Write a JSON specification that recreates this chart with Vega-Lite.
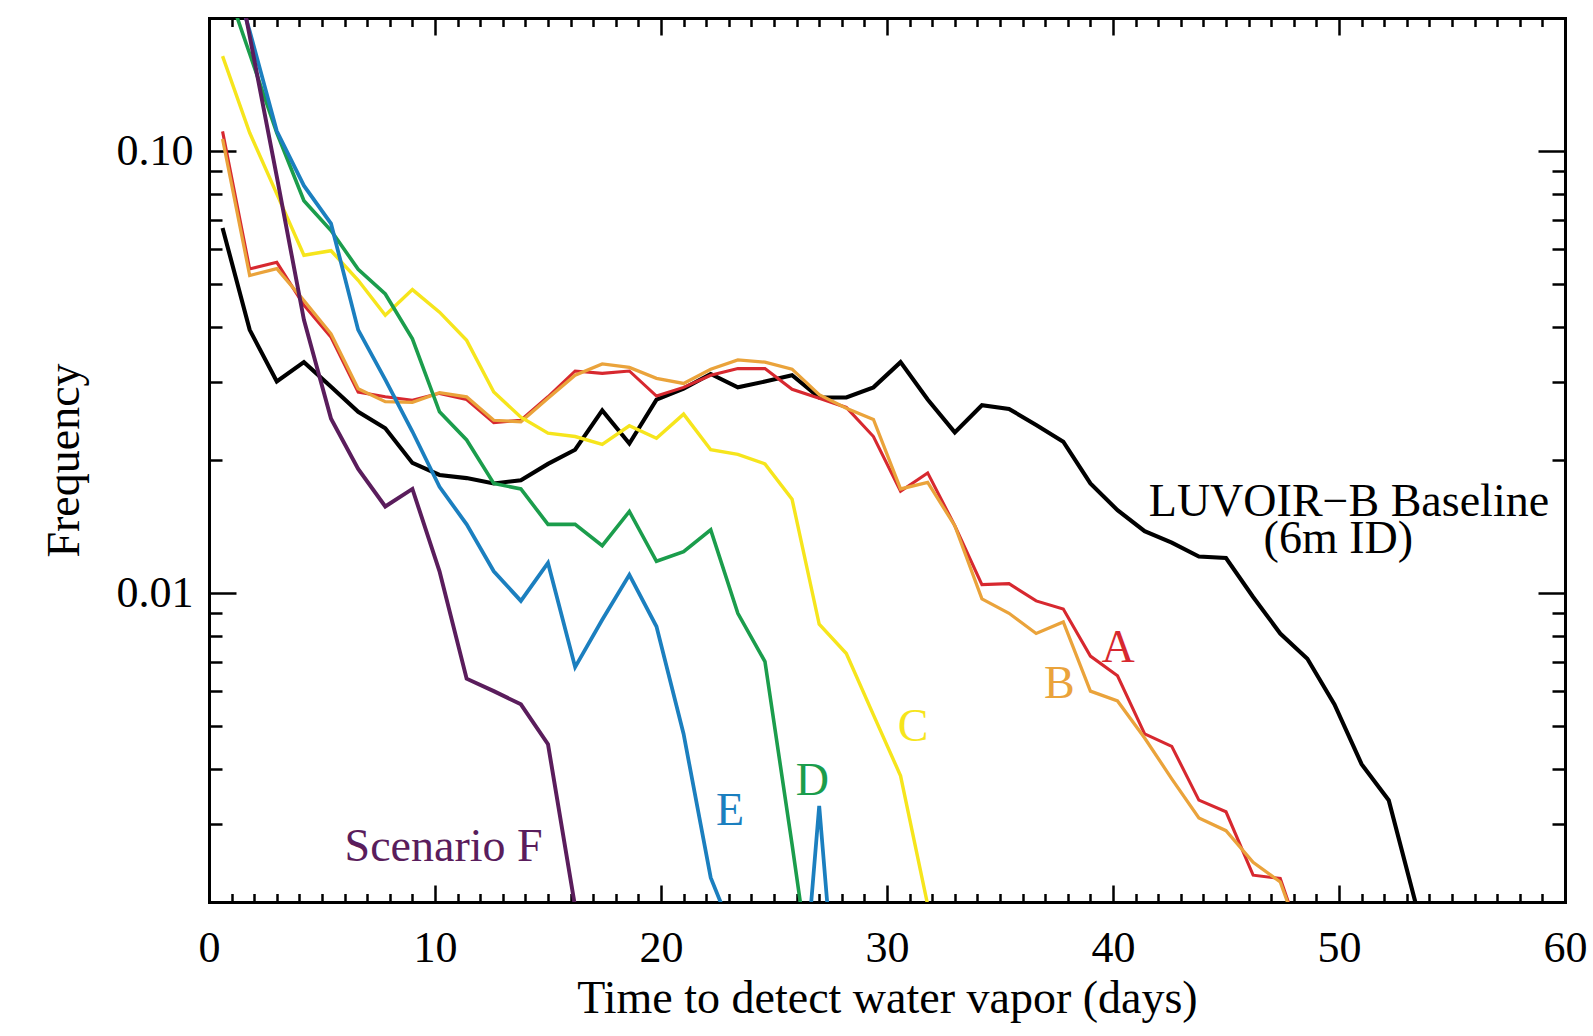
{
  "$schema": "https://vega.github.io/schema/vega-lite/v6.json",
  "width": 1356,
  "height": 884,
  "autosize": {"type": "none"},
  "padding": {"left": 209, "top": 18, "right": 28, "bottom": 134},
  "background": "white",
  "config": {
    "font": "Liberation Serif",
    "view": {"stroke": null},
    "axis": {
      "grid": false,
      "domainColor": "black",
      "domainWidth": 3,
      "domainCap": "square",
      "tickColor": "black",
      "tickWidth": 2.5,
      "labelColor": "black",
      "titleColor": "black",
      "labelFont": "Liberation Serif",
      "titleFont": "Liberation Serif",
      "titleFontWeight": "normal"
    }
  },
  "datasets": {
    "curves": [
      {"series": "Baseline", "day": 0.6, "freq": 0.067},
      {"series": "Baseline", "day": 1.8, "freq": 0.0394},
      {"series": "Baseline", "day": 3.0, "freq": 0.0301},
      {"series": "Baseline", "day": 4.2, "freq": 0.0333},
      {"series": "Baseline", "day": 5.4, "freq": 0.0293},
      {"series": "Baseline", "day": 6.6, "freq": 0.0257},
      {"series": "Baseline", "day": 7.8, "freq": 0.0236},
      {"series": "Baseline", "day": 9.0, "freq": 0.0197},
      {"series": "Baseline", "day": 10.2, "freq": 0.0185},
      {"series": "Baseline", "day": 11.4, "freq": 0.0182},
      {"series": "Baseline", "day": 12.6, "freq": 0.0177},
      {"series": "Baseline", "day": 13.8, "freq": 0.018},
      {"series": "Baseline", "day": 15.0, "freq": 0.0196},
      {"series": "Baseline", "day": 16.2, "freq": 0.0211},
      {"series": "Baseline", "day": 17.4, "freq": 0.0259},
      {"series": "Baseline", "day": 18.6, "freq": 0.0218},
      {"series": "Baseline", "day": 19.8, "freq": 0.0274},
      {"series": "Baseline", "day": 21.0, "freq": 0.029},
      {"series": "Baseline", "day": 22.2, "freq": 0.0313},
      {"series": "Baseline", "day": 23.4, "freq": 0.0292},
      {"series": "Baseline", "day": 24.6, "freq": 0.0301},
      {"series": "Baseline", "day": 25.8, "freq": 0.0311},
      {"series": "Baseline", "day": 27.0, "freq": 0.0277},
      {"series": "Baseline", "day": 28.2, "freq": 0.0277},
      {"series": "Baseline", "day": 29.4, "freq": 0.0292},
      {"series": "Baseline", "day": 30.6, "freq": 0.0333},
      {"series": "Baseline", "day": 31.8, "freq": 0.0274},
      {"series": "Baseline", "day": 33.0, "freq": 0.0231},
      {"series": "Baseline", "day": 34.2, "freq": 0.0266},
      {"series": "Baseline", "day": 35.4, "freq": 0.0261},
      {"series": "Baseline", "day": 36.6, "freq": 0.024},
      {"series": "Baseline", "day": 37.8, "freq": 0.022},
      {"series": "Baseline", "day": 39.0, "freq": 0.0177},
      {"series": "Baseline", "day": 40.2, "freq": 0.0154},
      {"series": "Baseline", "day": 41.4, "freq": 0.0138},
      {"series": "Baseline", "day": 42.6, "freq": 0.013},
      {"series": "Baseline", "day": 43.8, "freq": 0.0121},
      {"series": "Baseline", "day": 45.0, "freq": 0.012},
      {"series": "Baseline", "day": 46.2, "freq": 0.0098},
      {"series": "Baseline", "day": 47.4, "freq": 0.0081},
      {"series": "Baseline", "day": 48.6, "freq": 0.0071},
      {"series": "Baseline", "day": 49.8, "freq": 0.0056},
      {"series": "Baseline", "day": 51.0, "freq": 0.0041},
      {"series": "Baseline", "day": 52.2, "freq": 0.0034},
      {"series": "Baseline", "day": 53.4, "freq": 0.00198},
      {"series": "Baseline", "day": 54.6, "freq": 0.0008},

      {"series": "A", "day": 0.6, "freq": 0.1108},
      {"series": "A", "day": 1.8, "freq": 0.0541},
      {"series": "A", "day": 3.0, "freq": 0.056},
      {"series": "A", "day": 4.2, "freq": 0.0448},
      {"series": "A", "day": 5.4, "freq": 0.0379},
      {"series": "A", "day": 6.6, "freq": 0.0285},
      {"series": "A", "day": 7.8, "freq": 0.0278},
      {"series": "A", "day": 9.0, "freq": 0.0273},
      {"series": "A", "day": 10.2, "freq": 0.0283},
      {"series": "A", "day": 11.4, "freq": 0.0274},
      {"series": "A", "day": 12.6, "freq": 0.0243},
      {"series": "A", "day": 13.8, "freq": 0.0246},
      {"series": "A", "day": 15.0, "freq": 0.0278},
      {"series": "A", "day": 16.2, "freq": 0.0318},
      {"series": "A", "day": 17.4, "freq": 0.0314},
      {"series": "A", "day": 18.6, "freq": 0.0318},
      {"series": "A", "day": 19.8, "freq": 0.0279},
      {"series": "A", "day": 21.0, "freq": 0.0292},
      {"series": "A", "day": 22.2, "freq": 0.0311},
      {"series": "A", "day": 23.4, "freq": 0.0322},
      {"series": "A", "day": 24.6, "freq": 0.0322},
      {"series": "A", "day": 25.8, "freq": 0.0289},
      {"series": "A", "day": 27.0, "freq": 0.0276},
      {"series": "A", "day": 28.2, "freq": 0.0263},
      {"series": "A", "day": 29.4, "freq": 0.0226},
      {"series": "A", "day": 30.6, "freq": 0.017},
      {"series": "A", "day": 31.8, "freq": 0.0187},
      {"series": "A", "day": 33.0, "freq": 0.0142},
      {"series": "A", "day": 34.2, "freq": 0.01045},
      {"series": "A", "day": 35.4, "freq": 0.0105},
      {"series": "A", "day": 36.6, "freq": 0.0096},
      {"series": "A", "day": 37.8, "freq": 0.0092},
      {"series": "A", "day": 39.0, "freq": 0.0072},
      {"series": "A", "day": 40.2, "freq": 0.0065},
      {"series": "A", "day": 41.4, "freq": 0.0048},
      {"series": "A", "day": 42.6, "freq": 0.0045},
      {"series": "A", "day": 43.8, "freq": 0.0034},
      {"series": "A", "day": 45.0, "freq": 0.0032},
      {"series": "A", "day": 46.2, "freq": 0.0023},
      {"series": "A", "day": 47.4, "freq": 0.00226},
      {"series": "A", "day": 48.6, "freq": 0.0015},

      {"series": "B", "day": 0.6, "freq": 0.1065},
      {"series": "B", "day": 1.8, "freq": 0.0523},
      {"series": "B", "day": 3.0, "freq": 0.0542},
      {"series": "B", "day": 4.2, "freq": 0.0459},
      {"series": "B", "day": 5.4, "freq": 0.0386},
      {"series": "B", "day": 6.6, "freq": 0.029},
      {"series": "B", "day": 7.8, "freq": 0.0271},
      {"series": "B", "day": 9.0, "freq": 0.027},
      {"series": "B", "day": 10.2, "freq": 0.0284},
      {"series": "B", "day": 11.4, "freq": 0.0278},
      {"series": "B", "day": 12.6, "freq": 0.0246},
      {"series": "B", "day": 13.8, "freq": 0.0244},
      {"series": "B", "day": 15.0, "freq": 0.0276},
      {"series": "B", "day": 16.2, "freq": 0.0311},
      {"series": "B", "day": 17.4, "freq": 0.033},
      {"series": "B", "day": 18.6, "freq": 0.0324},
      {"series": "B", "day": 19.8, "freq": 0.0306},
      {"series": "B", "day": 21.0, "freq": 0.0298},
      {"series": "B", "day": 22.2, "freq": 0.0321},
      {"series": "B", "day": 23.4, "freq": 0.0337},
      {"series": "B", "day": 24.6, "freq": 0.0333},
      {"series": "B", "day": 25.8, "freq": 0.0321},
      {"series": "B", "day": 27.0, "freq": 0.0281},
      {"series": "B", "day": 28.2, "freq": 0.0262},
      {"series": "B", "day": 29.4, "freq": 0.0247},
      {"series": "B", "day": 30.6, "freq": 0.0172},
      {"series": "B", "day": 31.8, "freq": 0.0178},
      {"series": "B", "day": 33.0, "freq": 0.0142},
      {"series": "B", "day": 34.2, "freq": 0.0097},
      {"series": "B", "day": 35.4, "freq": 0.009},
      {"series": "B", "day": 36.6, "freq": 0.0081},
      {"series": "B", "day": 37.8, "freq": 0.0086},
      {"series": "B", "day": 39.0, "freq": 0.006},
      {"series": "B", "day": 40.2, "freq": 0.0057},
      {"series": "B", "day": 41.4, "freq": 0.0047},
      {"series": "B", "day": 42.6, "freq": 0.0038},
      {"series": "B", "day": 43.8, "freq": 0.0031},
      {"series": "B", "day": 45.0, "freq": 0.0029},
      {"series": "B", "day": 46.2, "freq": 0.00246},
      {"series": "B", "day": 47.4, "freq": 0.00222},
      {"series": "B", "day": 48.6, "freq": 0.0015},

      {"series": "C", "day": 0.6, "freq": 0.164},
      {"series": "C", "day": 1.8, "freq": 0.11},
      {"series": "C", "day": 3.0, "freq": 0.08},
      {"series": "C", "day": 4.2, "freq": 0.0581},
      {"series": "C", "day": 5.4, "freq": 0.0595},
      {"series": "C", "day": 6.6, "freq": 0.051},
      {"series": "C", "day": 7.8, "freq": 0.0425},
      {"series": "C", "day": 9.0, "freq": 0.0486},
      {"series": "C", "day": 10.2, "freq": 0.0432},
      {"series": "C", "day": 11.4, "freq": 0.0373},
      {"series": "C", "day": 12.6, "freq": 0.0285},
      {"series": "C", "day": 13.8, "freq": 0.025},
      {"series": "C", "day": 15.0, "freq": 0.023},
      {"series": "C", "day": 16.2, "freq": 0.0226},
      {"series": "C", "day": 17.4, "freq": 0.0217},
      {"series": "C", "day": 18.6, "freq": 0.0239},
      {"series": "C", "day": 19.8, "freq": 0.0224},
      {"series": "C", "day": 21.0, "freq": 0.0254},
      {"series": "C", "day": 22.2, "freq": 0.0211},
      {"series": "C", "day": 23.4, "freq": 0.0206},
      {"series": "C", "day": 24.6, "freq": 0.0196},
      {"series": "C", "day": 25.8, "freq": 0.0163},
      {"series": "C", "day": 27.0, "freq": 0.0085},
      {"series": "C", "day": 28.2, "freq": 0.0073},
      {"series": "C", "day": 29.4, "freq": 0.0053},
      {"series": "C", "day": 30.6, "freq": 0.00386},
      {"series": "C", "day": 31.8, "freq": 0.00197},
      {"series": "C", "day": 33.0, "freq": 0.0008},

      {"series": "D", "day": 0.6, "freq": 0.25},
      {"series": "D", "day": 1.8, "freq": 0.166},
      {"series": "D", "day": 3.0, "freq": 0.11},
      {"series": "D", "day": 4.2, "freq": 0.0772},
      {"series": "D", "day": 5.4, "freq": 0.0661},
      {"series": "D", "day": 6.6, "freq": 0.054},
      {"series": "D", "day": 7.8, "freq": 0.0475},
      {"series": "D", "day": 9.0, "freq": 0.0376},
      {"series": "D", "day": 10.2, "freq": 0.0257},
      {"series": "D", "day": 11.4, "freq": 0.0222},
      {"series": "D", "day": 12.6, "freq": 0.0177},
      {"series": "D", "day": 13.8, "freq": 0.0172},
      {"series": "D", "day": 15.0, "freq": 0.0143},
      {"series": "D", "day": 16.2, "freq": 0.0143},
      {"series": "D", "day": 17.4, "freq": 0.0128},
      {"series": "D", "day": 18.6, "freq": 0.0153},
      {"series": "D", "day": 19.8, "freq": 0.0118},
      {"series": "D", "day": 21.0, "freq": 0.0124},
      {"series": "D", "day": 22.2, "freq": 0.0139},
      {"series": "D", "day": 23.4, "freq": 0.009},
      {"series": "D", "day": 24.6, "freq": 0.007},
      {"series": "D", "day": 25.8, "freq": 0.0027},
      {"series": "D", "day": 27.0, "freq": 0.001},

      {"series": "E", "day": 0.6, "freq": 0.3},
      {"series": "E", "day": 1.8, "freq": 0.187},
      {"series": "E", "day": 3.0, "freq": 0.111},
      {"series": "E", "day": 4.2, "freq": 0.0835},
      {"series": "E", "day": 5.4, "freq": 0.0685},
      {"series": "E", "day": 6.6, "freq": 0.0394},
      {"series": "E", "day": 7.8, "freq": 0.0304},
      {"series": "E", "day": 9.0, "freq": 0.0232},
      {"series": "E", "day": 10.2, "freq": 0.0174},
      {"series": "E", "day": 11.4, "freq": 0.0143},
      {"series": "E", "day": 12.6, "freq": 0.0112},
      {"series": "E", "day": 13.8, "freq": 0.0096},
      {"series": "E", "day": 15.0, "freq": 0.0117},
      {"series": "E", "day": 16.2, "freq": 0.0068},
      {"series": "E", "day": 17.4, "freq": 0.0087},
      {"series": "E", "day": 18.6, "freq": 0.011},
      {"series": "E", "day": 19.8, "freq": 0.0084},
      {"series": "E", "day": 21.0, "freq": 0.0048},
      {"series": "E", "day": 22.2, "freq": 0.00227},
      {"series": "E", "day": 23.4, "freq": 0.0016},
      {"series": "E", "day": 24.6, "freq": 0.0006},
      {"series": "E", "day": 25.8, "freq": 0.0006},
      {"series": "E", "day": 27.0, "freq": 0.0033},
      {"series": "E", "day": 28.2, "freq": 0.0006},

      {"series": "F", "day": 0.6, "freq": 0.38},
      {"series": "F", "day": 1.8, "freq": 0.182},
      {"series": "F", "day": 3.0, "freq": 0.0875},
      {"series": "F", "day": 4.2, "freq": 0.0415},
      {"series": "F", "day": 5.4, "freq": 0.0248},
      {"series": "F", "day": 6.6, "freq": 0.0191},
      {"series": "F", "day": 7.8, "freq": 0.0157},
      {"series": "F", "day": 9.0, "freq": 0.0172},
      {"series": "F", "day": 10.2, "freq": 0.0112},
      {"series": "F", "day": 11.4, "freq": 0.0064},
      {"series": "F", "day": 12.6, "freq": 0.006},
      {"series": "F", "day": 13.8, "freq": 0.0056},
      {"series": "F", "day": 15.0, "freq": 0.00455},
      {"series": "F", "day": 16.2, "freq": 0.00195},
      {"series": "F", "day": 17.4, "freq": 0.0008}
    ],
    "labels": [
      {"series": "A", "label": "A", "day": 40.23, "freq": 0.00698},
      {"series": "B", "label": "B", "day": 37.63, "freq": 0.00578},
      {"series": "C", "label": "C", "day": 31.15, "freq": 0.00462},
      {"series": "D", "label": "D", "day": 26.7, "freq": 0.0035},
      {"series": "E", "label": "E", "day": 23.06, "freq": 0.00298},
      {"series": "F", "label": "Scenario F", "day": 10.38, "freq": 0.00248},
      {"series": "Baseline", "label": "LUVOIR\u2212B Baseline", "day": 50.44, "freq": 0.01496},
      {"series": "Baseline", "label": "(6m ID)", "day": 49.97, "freq": 0.0123}
    ]
  },
  "resolve": {"axis": {"x": "independent", "y": "independent"}},
  "layer": [
    {
      "data": {"name": "curves"},
      "mark": {"type": "line", "clip": true, "strokeJoin": "miter"},
      "encoding": {
        "x": {
          "field": "day", "type": "quantitative",
          "scale": {"domain": [0, 60], "nice": false, "zero": false},
          "axis": {
            "orient": "bottom", "values": [0, 10, 20, 30, 40, 50, 60], "format": "d",
            "tickSize": -17, "labelPadding": 76, "labelBaseline": "alphabetic",
            "labelFontSize": 44, "labelFlush": false, "labelOverlap": false, "labelBound": false,
            "domain": true,
            "title": "Time to detect water vapor (days)", "titleFontSize": 46,
            "titleY": 110, "titleBaseline": "alphabetic", "titleAlign": "center"
          }
        },
        "y": {
          "field": "freq", "type": "quantitative",
          "scale": {"type": "log", "domain": [0.002, 0.2], "nice": false},
          "axis": {
            "orient": "left", "values": [0.01, 0.1],
            "tickSize": -27, "labelPadding": 43, "labelFontSize": 44,
            "labelExpr": "datum.value > 0.05 ? '0.10' : '0.01'",
            "labelOverlap": false, "labelFlush": false, "labelBound": false,
            "domain": true,
            "title": "Frequency", "titleFontSize": 46, "titleX": -131, "titleY": 442,
            "titleAngle": -90, "titleBaseline": "alphabetic", "titleAlign": "center"
          }
        },
        "color": {
          "field": "series", "type": "nominal",
          "scale": {
            "domain": ["Baseline", "F", "E", "D", "C", "B", "A"],
            "range": ["#000000", "#5a1d5c", "#1b7fbf", "#1b9d4c", "#f6e51c", "#eaa33b", "#d7282f"]
          },
          "legend": null
        },
        "strokeWidth": {
          "field": "series", "type": "ordinal",
          "scale": {
            "domain": ["Baseline", "F", "E", "D", "C", "B", "A"],
            "range": [4.1, 3.1, 3.1, 3.1, 3.3, 3.7, 3.6]
          },
          "legend": null
        }
      }
    },
    {
      "data": {"name": "labels"},
      "mark": {"type": "text", "fontSize": 46, "align": "center", "baseline": "alphabetic", "font": "Liberation Serif"},
      "encoding": {
        "x": {"field": "day", "type": "quantitative", "scale": {"domain": [0, 60], "nice": false, "zero": false}, "axis": null},
        "y": {"field": "freq", "type": "quantitative", "scale": {"type": "log", "domain": [0.002, 0.2], "nice": false}, "axis": null},
        "text": {"field": "label"},
        "color": {
          "field": "series", "type": "nominal",
          "scale": {
            "domain": ["Baseline", "F", "E", "D", "C", "B", "A"],
            "range": ["#000000", "#5a1d5c", "#1b7fbf", "#1b9d4c", "#f6e51c", "#eaa33b", "#d7282f"]
          },
          "legend": null
        }
      }
    },
    {
      "data": {"name": "labels"},
      "mark": {"type": "point", "opacity": 0},
      "encoding": {
        "x": {
          "field": "day", "type": "quantitative", "scale": {"domain": [0, 60], "nice": false, "zero": false},
          "axis": {
            "orient": "bottom",
            "values": [1,2,3,4,5,6,7,8,9,11,12,13,14,15,16,17,18,19,21,22,23,24,25,26,27,28,29,31,32,33,34,35,36,37,38,39,41,42,43,44,45,46,47,48,49,51,52,53,54,55,56,57,58,59],
            "tickSize": -8.5, "labels": false, "domain": false, "title": null
          }
        },
        "y": {
          "field": "freq", "type": "quantitative", "scale": {"type": "log", "domain": [0.002, 0.2], "nice": false},
          "axis": {
            "orient": "left",
            "values": [0.003, 0.004, 0.005, 0.006, 0.007, 0.008, 0.009, 0.02, 0.03, 0.04, 0.05, 0.06, 0.07, 0.08, 0.09],
            "tickSize": -13, "labels": false, "domain": false, "title": null
          }
        }
      }
    },
    {
      "data": {"name": "labels"},
      "mark": {"type": "point", "opacity": 0},
      "encoding": {
        "x": {
          "field": "day", "type": "quantitative", "scale": {"domain": [0, 60], "nice": false, "zero": false},
          "axis": {"orient": "top", "values": [0, 10, 20, 30, 40, 50, 60], "tickSize": -17, "labels": false, "domain": true, "title": null}
        },
        "y": {
          "field": "freq", "type": "quantitative", "scale": {"type": "log", "domain": [0.002, 0.2], "nice": false},
          "axis": {"orient": "right", "values": [0.01, 0.1], "tickSize": -27, "labels": false, "domain": true, "title": null}
        }
      }
    },
    {
      "data": {"name": "labels"},
      "mark": {"type": "point", "opacity": 0},
      "encoding": {
        "x": {
          "field": "day", "type": "quantitative", "scale": {"domain": [0, 60], "nice": false, "zero": false},
          "axis": {
            "orient": "top",
            "values": [1,2,3,4,5,6,7,8,9,11,12,13,14,15,16,17,18,19,21,22,23,24,25,26,27,28,29,31,32,33,34,35,36,37,38,39,41,42,43,44,45,46,47,48,49,51,52,53,54,55,56,57,58,59],
            "tickSize": -8.5, "labels": false, "domain": false, "title": null
          }
        },
        "y": {
          "field": "freq", "type": "quantitative", "scale": {"type": "log", "domain": [0.002, 0.2], "nice": false},
          "axis": {
            "orient": "right",
            "values": [0.003, 0.004, 0.005, 0.006, 0.007, 0.008, 0.009, 0.02, 0.03, 0.04, 0.05, 0.06, 0.07, 0.08, 0.09],
            "tickSize": -13, "labels": false, "domain": false, "title": null
          }
        }
      }
    }
  ]
}
